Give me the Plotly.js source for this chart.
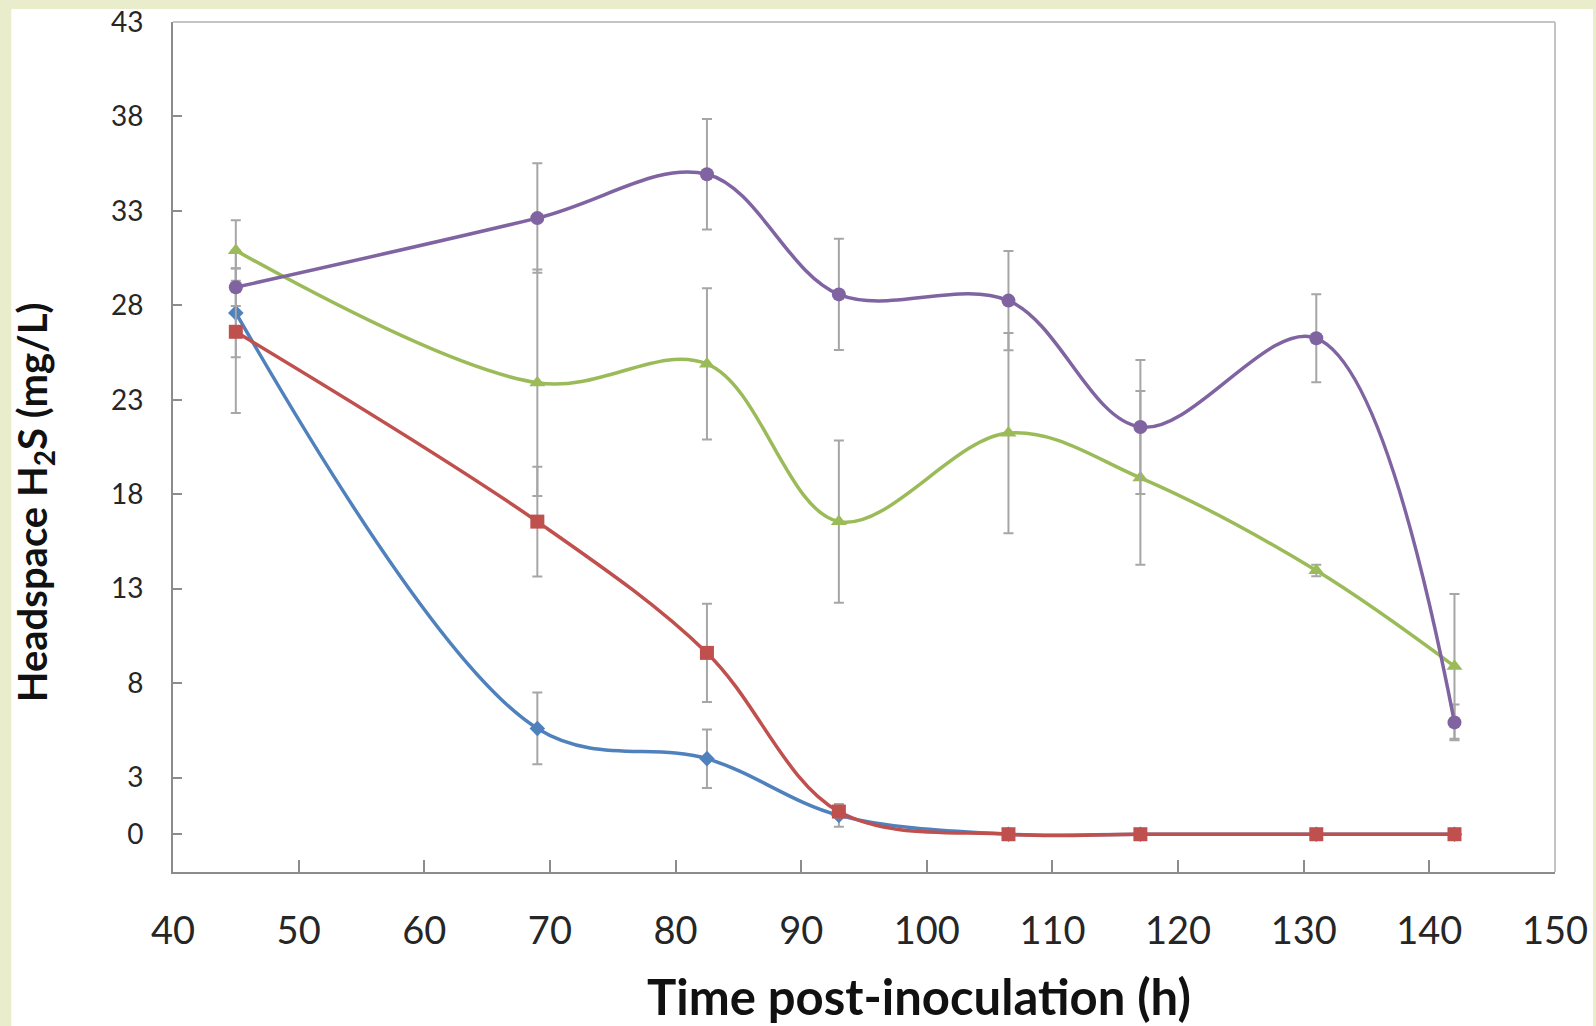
<!DOCTYPE html>
<html>
<head>
<meta charset="utf-8">
<script src="https://cdn.plot.ly/plotly-3.0.1.min.js"></script>
<style>
  html, body { margin: 0; padding: 0; background: #e9edcb; width: 1596px; height: 1026px; overflow: hidden; }
  #chart { position: absolute; left: 0; top: 0; width: 1596px; height: 1026px; }
</style>
</head>
<body>
<div id="chart"></div>
<script>
// Time post-inoculation (h)
const hours = [45, 69, 82.5, 93, 106.5, 117, 131, 142];

// Headspace H2S (mg/L) for each series, with symmetric error values
const blueValues   = [27.6, 5.6, 4.0, 1.0, 0, 0, 0, 0];
const blueErrors   = [2.35, 1.9, 1.55, 0.6, 0, 0, 0, 0];

const redValues    = [26.6, 16.55, 9.6, 1.2, 0, 0, 0, 0];
const redErrors    = [4.3, 2.9, 2.6, 0.3, 0, 0, 0, 0];

const greenValues  = [30.9, 23.9, 24.9, 16.55, 21.24, 18.87, 13.96, 8.89];
const greenErrors  = [1.6, 6.0, 4.0, 4.3, 5.3, 4.6, 0.3, 3.83];

const purpleValues = [28.96, 32.62, 34.94, 28.58, 28.25, 21.56, 26.26, 5.92];
const purpleErrors = [1.0, 2.9, 2.92, 2.95, 2.63, 3.55, 2.33, 0.95];

const yTicks = [0, 3, 8, 13, 18, 23, 28, 33, 38, 43];
const xTicks = [40, 50, 60, 70, 80, 90, 100, 110, 120, 130, 140, 150];

const errStyle = { type: 'data', visible: true, color: '#a6a6a6', thickness: 2, width: 5 };

function series(name, y, err, color, symbol, size) {
  return {
    type: 'scatter', mode: 'lines+markers', name: name,
    x: hours, y: y,
    error_y: Object.assign({ array: err }, errStyle),
    line: { color: color, width: 3.5, shape: 'spline', smoothing: 1 },
    marker: { color: color, symbol: symbol, size: size },
    cliponaxis: false
  };
}

const data = [
  series('blue', blueValues, blueErrors, '#4f81bd', 'diamond', 12),
  series('red', redValues, redErrors, '#c0504d', 'square', 14),
  series('green', greenValues, greenErrors, '#9bbb59', 'triangle-up', 14),
  series('purple', purpleValues, purpleErrors, '#8064a2', 'circle', 14)
];

const layout = {
  width: 1596, height: 1026,
  margin: { l: 173, r: 41, t: 22, b: 154 },
  paper_bgcolor: '#e9edcb', plot_bgcolor: '#ffffff',
  showlegend: false,
  font: { family: 'Lato, "Open Sans", sans-serif', color: '#262626' },
  xaxis: {
    range: [40, 150.001], tickvals: xTicks, ticktext: xTicks.map(String),
    showgrid: false, zeroline: false,
    showline: true, linecolor: '#8c8c8c', linewidth: 2,
    ticks: 'inside', ticklen: 12, tickwidth: 2, tickcolor: '#8c8c8c',
    tickfont: { size: 38, family: 'Lato, sans-serif', color: '#262626' },
    ticklabelstandoff: 24, ticklabeloverflow: 'allow'
  },
  yaxis: {
    range: [-2, 43.001], tickvals: yTicks, ticktext: yTicks.map(String),
    showgrid: false, zeroline: false,
    showline: true, linecolor: '#8c8c8c', linewidth: 2,
    ticks: 'inside', ticklen: 9, tickwidth: 2, tickcolor: '#8c8c8c',
    tickfont: { size: 28, family: 'Lato, sans-serif', color: '#262626' },
    ticklabelstandoff: 22, ticklabeloverflow: 'allow'
  },
  shapes: [
    { type: 'rect', xref: 'paper', yref: 'paper', layer: 'below',
      x0: -0.117, x1: 1.0275, y0: -0.1816, y1: 1.0153,
      fillcolor: '#ffffff', line: { width: 0 } },
    { type: 'line', xref: 'paper', yref: 'paper', x0: 0, x1: 1, y0: 1, y1: 1, line: { color: '#c4c4c4', width: 2 } },
    { type: 'line', xref: 'paper', yref: 'paper', x0: 1, x1: 1, y0: 0, y1: 1, line: { color: '#c4c4c4', width: 2 } }
  ],
  annotations: [
    { text: '<b>Time post-inoculation (h)</b>', xref: 'paper', yref: 'paper',
      x: 0.54, y: 0, yshift: -124, xanchor: 'center', yanchor: 'middle', showarrow: false,
      font: { size: 49, family: 'Lato, sans-serif', color: '#111111' } },
    { text: '<b>Headspace H<sub>2</sub>S (mg/L)</b>', xref: 'paper', yref: 'paper',
      x: 0, xshift: -139, y: 0.435, xanchor: 'center', yanchor: 'middle', showarrow: false,
      textangle: -90,
      font: { size: 40, family: 'Lato, sans-serif', color: '#111111' } }
  ]
};

Plotly.newPlot('chart', data, layout, { displayModeBar: false, staticPlot: true });
</script>
</body>
</html>
